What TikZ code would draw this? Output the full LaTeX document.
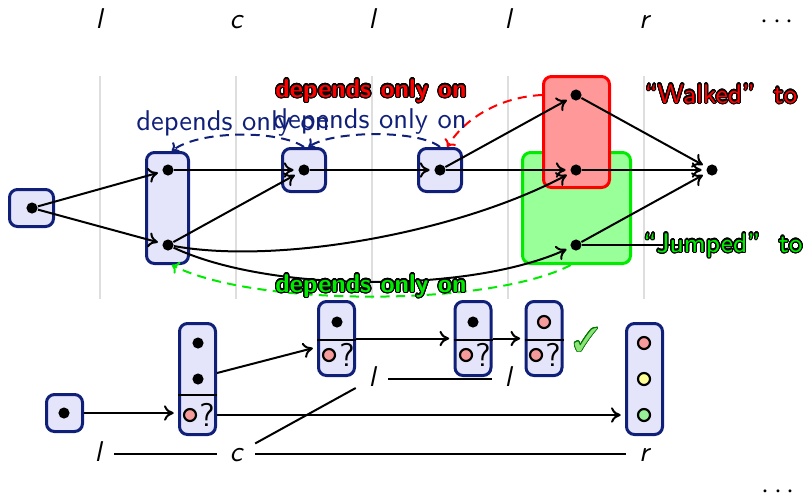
\documentclass[tikz,border=0pt]{standalone}
\usepackage{pifont}
\usepackage{contour}
\usetikzlibrary{arrows.meta,calc}
\renewcommand{\familydefault}{\sfdefault}
\contournumber{24}
\contourlength{0.4pt}

\definecolor{navy}{RGB}{16,32,120}
\definecolor{boxfill}{RGB}{228,228,250}
\definecolor{pinkdot}{RGB}{245,155,155}
\definecolor{yellowdot}{RGB}{255,255,150}
\definecolor{greendot}{RGB}{150,238,150}
\definecolor{walkfill}{RGB}{255,153,153}
\definecolor{jumpfill}{RGB}{153,255,153}
\definecolor{brightgreen}{RGB}{0,235,0}
\definecolor{checkgreen}{RGB}{140,228,120}

\tikzset{
  box/.style={draw=navy, fill=boxfill, line width=1.05pt, rounded corners=2.8pt, inner sep=0pt},
  rbox/.style={draw=red, fill=walkfill, line width=1.05pt, rounded corners=2.8pt, inner sep=0pt},
  gbox/.style={draw=brightgreen, fill=jumpfill, line width=1.05pt, rounded corners=2.8pt, inner sep=0pt},
  dot/.style={circle, fill=black, inner sep=0pt, minimum size=3.9pt},
  cdot/.style={circle, draw=black, line width=0.75pt, inner sep=0pt, minimum size=4.2pt},
  arr/.style={-{To[length=3.4pt,width=5.4pt]}, line width=0.7pt, shorten >=1.5pt},
  link/.style={line width=0.7pt},
  sepline/.style={line width=0.95pt},
  dep/.style={dash pattern=on 3.2pt off 2.2pt, line width=0.7pt, -{To[length=2.4pt,width=4.6pt]}},
  guide/.style={draw=black!13, line width=0.6pt},
  toplab/.style={anchor=base, font=\itshape},
  lab/.style={font=\itshape, text height=6.9pt, text depth=2pt, inner xsep=4.3pt, inner ysep=1pt},
  qm/.style={inner sep=0pt, font=\fontsize{11.5}{12}\selectfont},
  boldlab/.style={anchor=base, font=\bfseries\fontsize{9}{10}\selectfont},
  wordlab/.style={anchor=base, font=\fontsize{9.4}{11}\selectfont},
}

\begin{document}
\begin{tikzpicture}[x=0.35pt,y=-0.35pt]
\useasboundingbox (0,0) rectangle (803,494);

% column guides
\foreach \x in {100,236,372,508,644}
  \draw[guide] (\x,76) -- (\x,299);

% word sequence
\foreach \x/\t [count=\i] in {99/l,236/c,372/l,508/l,644/r}
  \node[toplab] (top\i) at (\x,28) {\t};
\node[anchor=base] (topdots) at (777,28) {$\cdots$};

% ---- upper lattice ----
\node[box, minimum width=15.4pt, minimum height=12.95pt] (A) at (31.5,208) {};
\node[box, minimum width=14.7pt, minimum height=38.85pt] (B) at (167.5,208) {};
\node[box, minimum width=15.05pt, minimum height=15.05pt] (C) at (304,170) {};
\node[box, minimum width=15.05pt, minimum height=15.05pt] (D) at (440,170) {};
\node[gbox, minimum width=37.8pt, minimum height=38.85pt] (Gr) at (576.5,208) {};
\node[rbox, minimum width=23.1pt, minimum height=38.85pt] (Rd) at (576.5,132) {};

\node[dot] (a)  at (32,208)  {};
\node[dot] (b1) at (168,170) {};
\node[dot] (b2) at (168,245) {};
\node[dot] (c1) at (304,170) {};
\node[dot] (d1) at (440,170) {};
\node[dot] (w1) at (576,95)  {};
\node[dot] (w2) at (576,170) {};
\node[dot] (j1) at (576,245) {};
\node[dot] (z)  at (712,170) {};
\coordinate (jend) at (688,245);

\draw[arr] (a) -- (b1);
\draw[arr] (a) -- (b2);
\draw[arr] (b1) -- (c1);
\draw[arr] (b2) -- (c1);
\draw[arr] (c1) -- (d1);
\draw[arr] (d1) -- (w1);
\draw[arr] (d1) -- (w2);
\draw[arr] (b2) .. controls (280,265) and (460,232) .. (w2);
\draw[arr] (b2) .. controls (270,293) and (470,293) .. (j1);
\draw[arr] (w1) -- (z);
\draw[arr] (w2) -- (z);
\draw[arr] (j1) -- (z);
\draw[link] (j1) -- (jend);

% dependency arcs
\draw[dep, navy] (C.north) .. controls (280,130) and (200,130) .. ([xshift=1.5pt]B.north);
\draw[dep, navy] (D.north) .. controls (420,130) and (335,130) .. ([xshift=1.5pt]C.north);
\draw[dep, red] (Rd.west |- w1) .. controls (500,97) and (465,118) .. ([xshift=2.5pt]D.north);
\draw[dep, brightgreen] ([xshift=-2pt]Gr.south) .. controls (490,307) and (255,307) .. ([xshift=1.5pt]B.south);

\node[anchor=base, text=navy] (dep1) at (233,130) {depends only on};
\node[anchor=base, text=navy] (dep2) at (370,128) {depends only on};
\node[boldlab] (dep3) at (371,97) {\color{red}\contour{black}{depends only on}};
\node[boldlab] (dep4) at (371,292) {\color{brightgreen}\contour{black}{depends only on}};
\node[wordlab] (walk) at (721,103) {\color{red}\contour{black}{“Walked”\ \ to}};
\node[wordlab] (jump) at (723,252) {\color{brightgreen}\contour{black}{“Jumped”\ \ to}};

% ---- lower chart ----
\node[box, minimum width=12.6pt, minimum height=12.95pt] (E) at (64.5,413) {};
\node[box, minimum width=12.6pt, minimum height=38.85pt] (F) at (197.5,379) {};
\node[box, minimum width=12.6pt, minimum height=25.9pt] (G) at (336.5,338.5) {};
\node[box, minimum width=12.6pt, minimum height=25.9pt] (H) at (473,338.5) {};
\node[box, minimum width=12.6pt, minimum height=25.9pt] (I) at (544,338.5) {};
\node[box, minimum width=12.6pt, minimum height=38.85pt] (J) at (644.5,379) {};

\draw[sepline] ([yshift=-5.6pt]F.west) -- ([yshift=-5.6pt]F.east);
\draw[sepline] ([yshift=-0.5pt]G.west) -- ([yshift=-0.5pt]G.east);
\draw[sepline] ([yshift=-0.5pt]H.west) -- ([yshift=-0.5pt]H.east);
\draw[sepline] ([yshift=-0.5pt]I.west) -- ([yshift=-0.5pt]I.east);

\node[dot] (e1) at (64,413) {};
\node[dot] (f1) at (198,343) {};
\node[dot] (f2) at (198,379) {};
\node[cdot, fill=pinkdot] (fp) at (190,415) {};
\node[qm] (fq) at (207,415) {?};
\node[dot] (g1) at (337,322) {};
\node[cdot, fill=pinkdot] (gp) at (329,355) {};
\node[qm] (gq) at (347,355) {?};
\node[dot] (h1) at (473,322) {};
\node[cdot, fill=pinkdot] (hp) at (466,355) {};
\node[qm] (hq) at (483,355) {?};
\node[cdot, fill=pinkdot] (i1) at (544,322) {};
\node[cdot, fill=pinkdot] (ip) at (536,355) {};
\node[qm] (iq) at (553,355) {?};
\node[cdot, fill=pinkdot] (ra) at (644,343) {};
\node[cdot, fill=yellowdot] (rb) at (644,379) {};
\node[cdot, fill=greendot] (rc) at (644,415) {};

\node[font=\fontsize{11.5}{12}\selectfont] (ok) at (586,340) {\contourlength{0.3pt}\color{checkgreen}\contour{green!45!black}{\ding{51}}};

\draw[arr] (E.east) -- (F.west |- E.east);
\draw[arr] ([yshift=2.1pt]F.east) -- ([yshift=-3pt]G.west);
\draw[arr] (G.east) -- (H.west);
\draw[arr] (H.east) -- (I.west);
\draw[arr] (F.east |- fp) -- (J.west |- fp);

% tree of the sequence
\node[lab] (L1) at (98,454) {l};
\node[lab] (C0) at (236,454) {c};
\node[lab] (R0) at (644,454) {r};
\node[lab] (L2) at (372,379) {l};
\node[lab] (L3) at (508,379) {l};
\draw[link] (L1) -- (C0);
\draw[link] (C0) -- (R0);
\draw[link] (C0) -- (L2);
\draw[link] (L2) -- (L3);

\node[anchor=base] (lowdots) at (778,498) {$\cdots$};
\end{tikzpicture}
\end{document}
